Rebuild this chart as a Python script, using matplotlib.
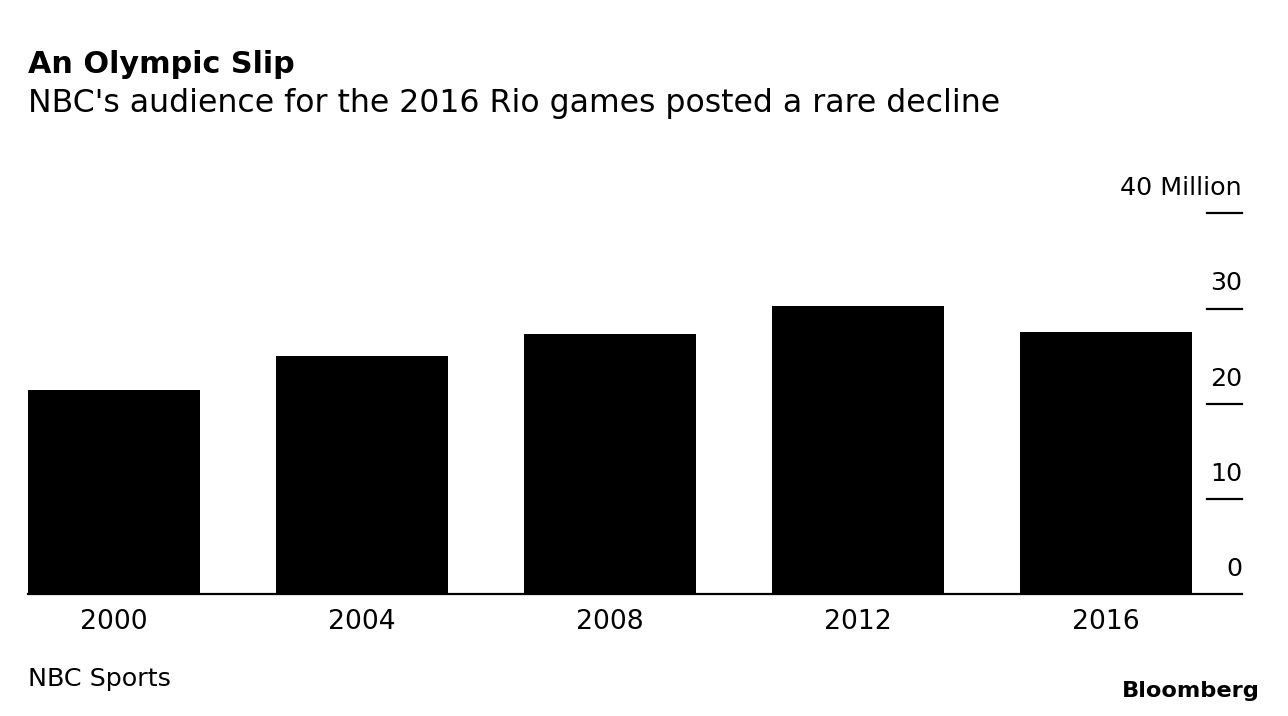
import matplotlib
matplotlib.use("Agg")
import matplotlib.pyplot as plt

# NBC Olympic audience, millions
years = ["2000", "2004", "2008", "2012", "2016"]
viewers = [21.5, 25.0, 27.3, 30.25, 27.5]
yticks = [0, 10, 20, 30, 40]
ytick_labels = ["0", "10", "20", "30", "40 Million"]

plt.rcParams["font.family"] = ["DejaVu Sans"]

W, H = 1288, 716
fig = plt.figure(figsize=(W / 100, H / 100), dpi=100)
left, right, bottom, top = 28, 1242, 594.3, 213.3
ax = fig.add_axes([left / W, 1 - bottom / H, (right - left) / W, (bottom - top) / H])

x = range(len(years))
ax.bar(x, viewers, width=0.694, color="black", zorder=2)
ax.set_xlim(-0.347, 4.55)
ax.set_ylim(0, 40)

for s in ("top", "left", "right"):
    ax.spines[s].set_visible(False)
ax.spines["bottom"].set_linewidth(1.6)
ax.spines["bottom"].set_color("black")
ax.spines["bottom"].set_zorder(3)

ax.set_xticks(list(x))
ax.set_xticklabels(years, fontsize=19.2)
ax.tick_params(axis="x", length=0, pad=10.5)
ax.set_yticks([])

# right-hand tick marks with labels sitting on top of them
tr = ax.get_yaxis_transform()
for v, lab in zip(yticks, ytick_labels):
    if v > 0:
        ax.plot([0.971, 1.0], [v, v], color="black", lw=1.6, transform=tr, clip_on=False)
    ax.text(1.0, v + 1.9, lab, transform=tr, ha="right", va="baseline", fontsize=18.3)

fig.text(28 / W, 1 - 73.3 / H, "An Olympic Slip", fontsize=21.8, fontweight="bold",
         ha="left", va="baseline")
fig.text(28 / W, 1 - 111.7 / H, "NBC's audience for the 2016 Rio games posted a rare decline",
         fontsize=22.7, ha="left", va="baseline")
fig.text(28 / W, 1 - 686 / H, "NBC Sports", fontsize=18.3, ha="left", va="baseline")
fig.text(1260 / W, 1 - 697 / H, "Bloomberg", fontsize=16.2, fontweight="bold",
         ha="right", va="baseline")

fig.savefig("out.png", dpi=100)
